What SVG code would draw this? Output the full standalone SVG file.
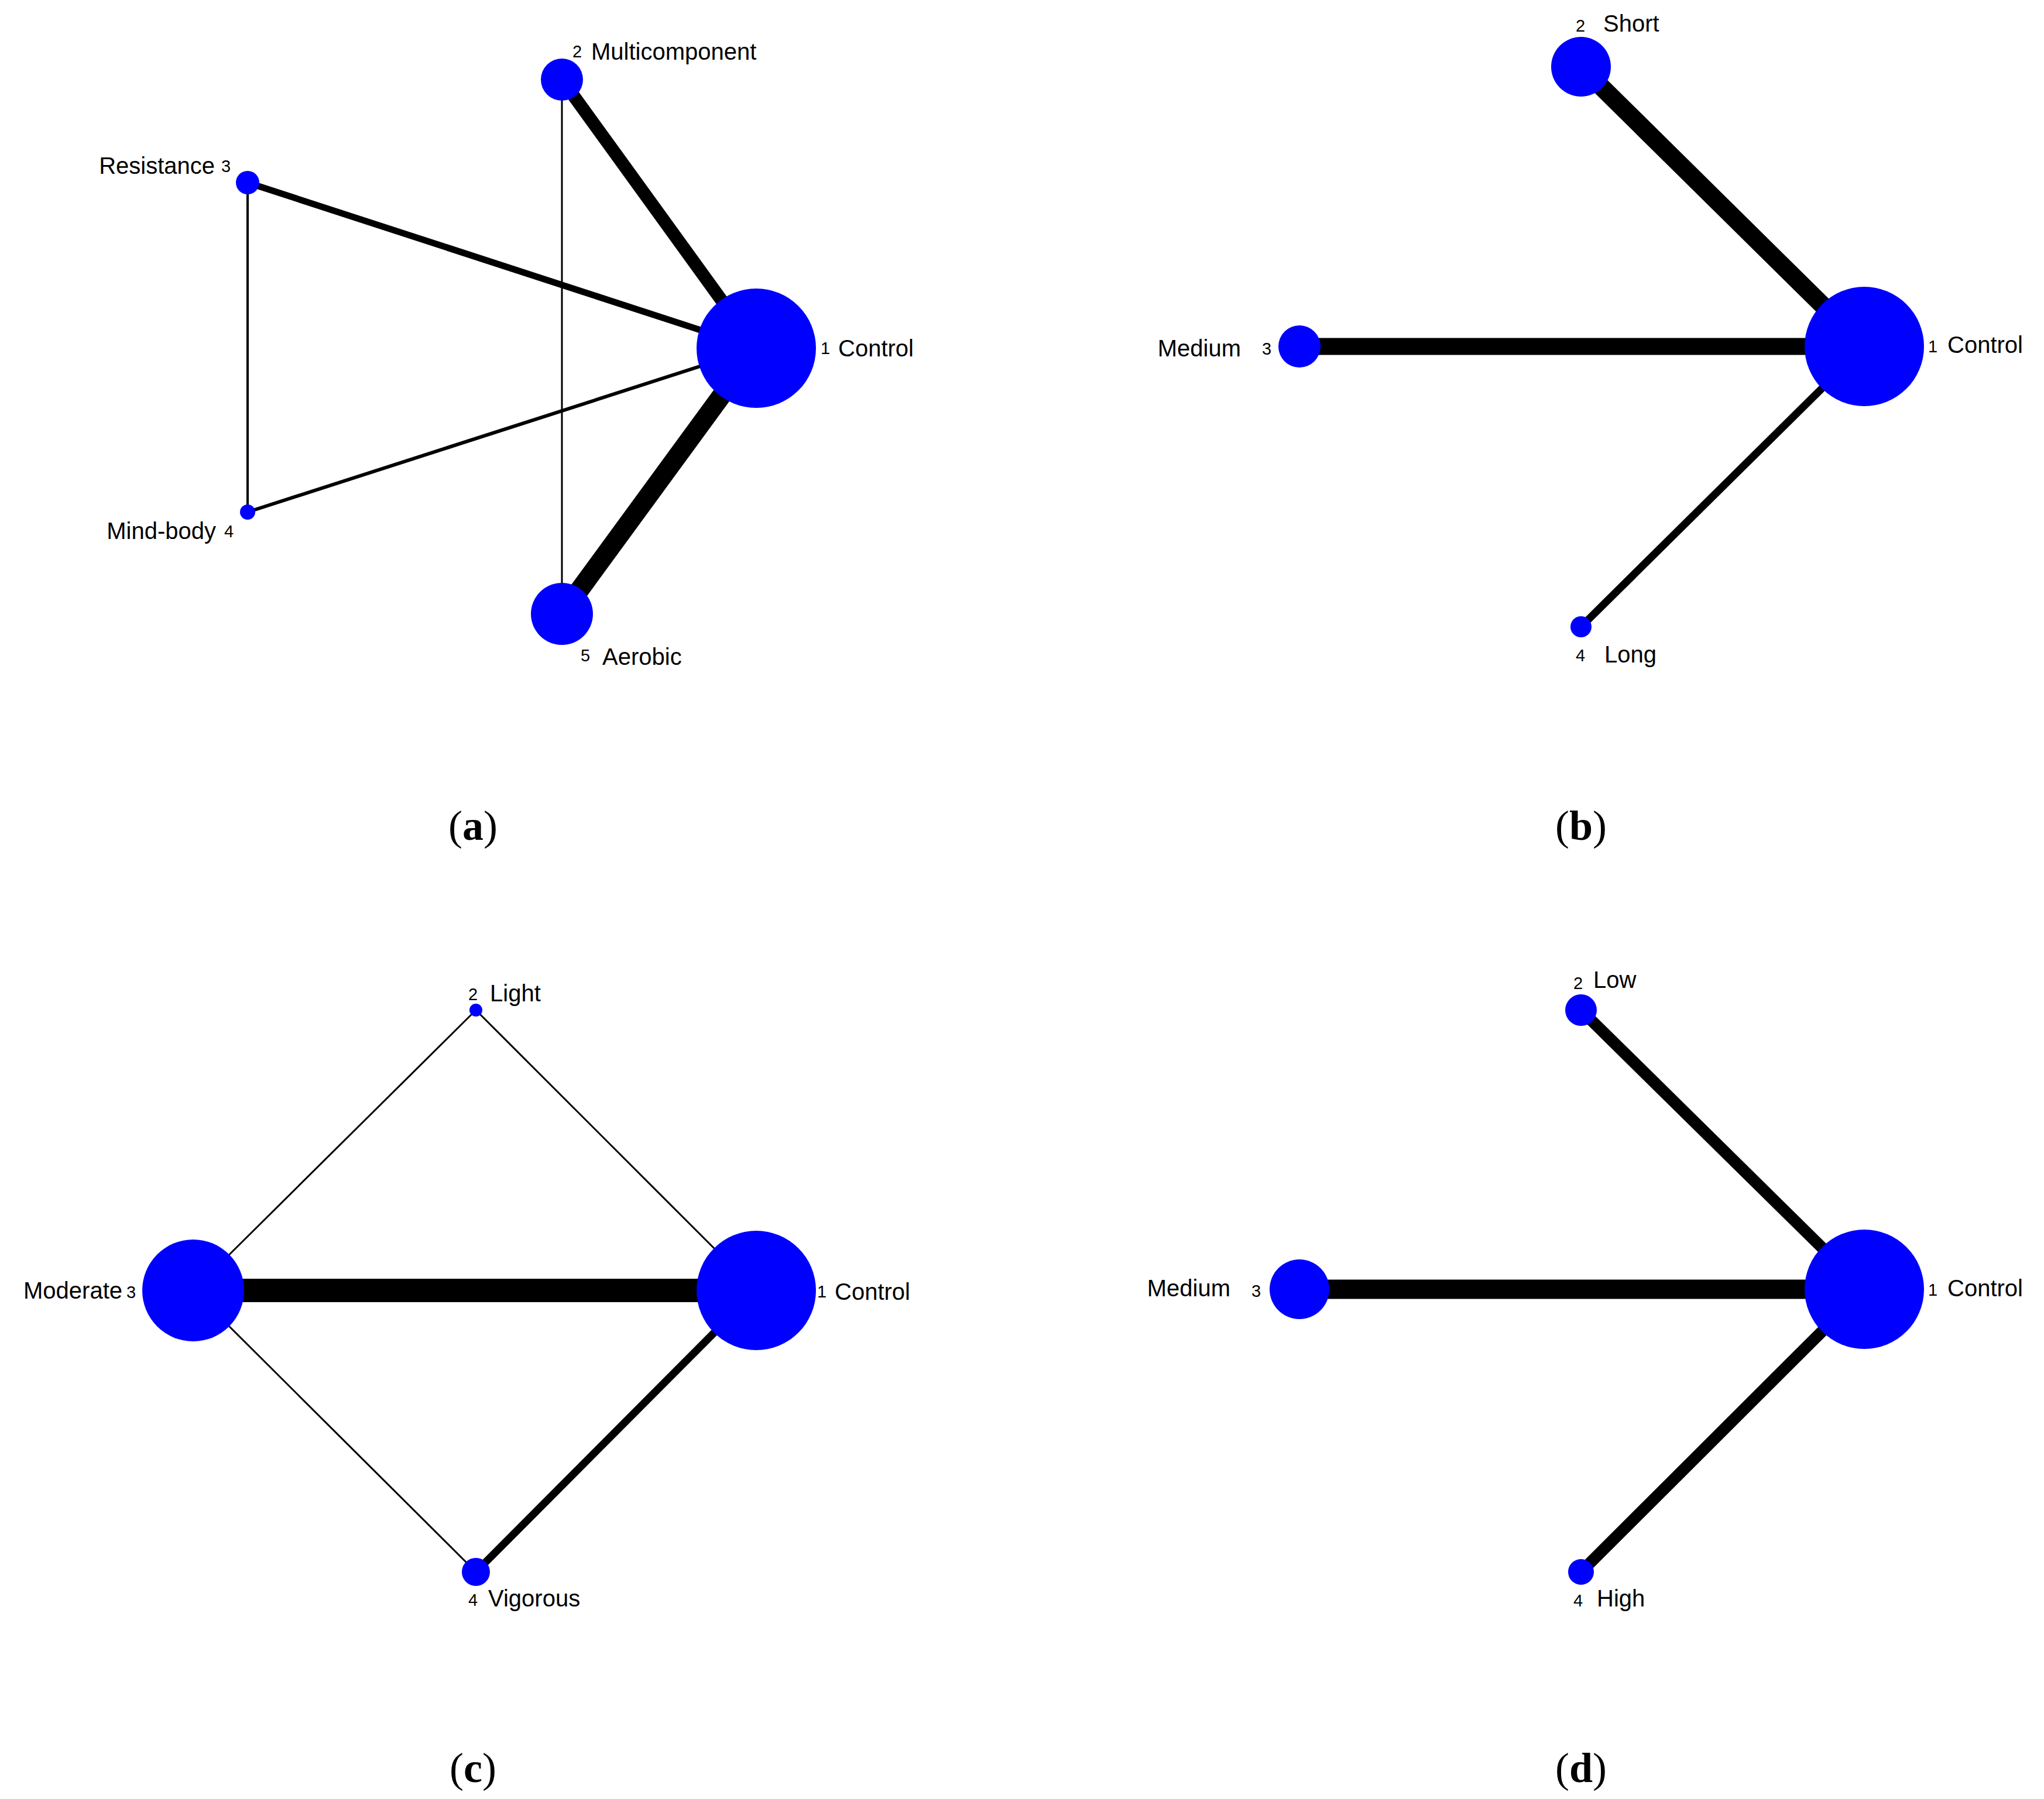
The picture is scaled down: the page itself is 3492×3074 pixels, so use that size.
<svg xmlns="http://www.w3.org/2000/svg" width="3492" height="3074" viewBox="0 0 3492 3074">
<style>
.n{fill:#0000ff}
.e{stroke:#000;fill:none}
.t{font-family:"Liberation Sans",Arial,sans-serif;font-size:40px;fill:#000}
.s{font-family:"Liberation Sans",Arial,sans-serif;font-size:29px;fill:#000}
.c{font-family:"Liberation Serif","Times New Roman",serif;font-size:72px;fill:#000;text-anchor:middle}
</style>
<rect width="3492" height="3074" fill="#fff"/>
<g id="connectors">
<line class="e" x1="960" y1="136" x2="1292" y2="595" stroke-width="22"/>
<line class="e" x1="423" y1="312" x2="1292" y2="595" stroke-width="11"/>
<line class="e" x1="423" y1="875" x2="1292" y2="595" stroke-width="6"/>
<line class="e" x1="960" y1="1049" x2="1292" y2="595" stroke-width="33"/>
<line class="e" x1="423" y1="312" x2="423" y2="875" stroke-width="4"/>
<line class="e" x1="960" y1="136" x2="960" y2="1049" stroke-width="3"/>
<line class="e" x1="2701" y1="114" x2="3185" y2="592" stroke-width="31"/>
<line class="e" x1="2220" y1="592" x2="3185" y2="592" stroke-width="29"/>
<line class="e" x1="2701" y1="1071" x2="3185" y2="592" stroke-width="13"/>
<line class="e" x1="330" y1="2205" x2="1292" y2="2205" stroke-width="40"/>
<line class="e" x1="813" y1="2686" x2="1292" y2="2205" stroke-width="13"/>
<line class="e" x1="813" y1="1726" x2="1292" y2="2205" stroke-width="3"/>
<line class="e" x1="813" y1="1726" x2="330" y2="2205" stroke-width="3"/>
<line class="e" x1="330" y1="2205" x2="813" y2="2686" stroke-width="3"/>
<line class="e" x1="2701" y1="1726" x2="3185" y2="2203" stroke-width="20"/>
<line class="e" x1="2220" y1="2203" x2="3185" y2="2203" stroke-width="33"/>
<line class="e" x1="2701" y1="2686" x2="3185" y2="2203" stroke-width="20"/>
</g>
<g id="a1"><circle class="n" cx="1292" cy="595" r="102"/><text class="s" x="1402" y="605">1</text><text class="t" x="1432" y="609">Control</text></g>
<g id="a2"><circle class="n" cx="960" cy="136" r="36"/><text class="s" x="978" y="98">2</text><text class="t" x="1010" y="102">Multicomponent</text></g>
<g id="a3"><circle class="n" cx="423" cy="312" r="20"/><text class="t" x="367" y="297" text-anchor="end">Resistance</text><text class="s" x="378" y="294">3</text></g>
<g id="a4"><circle class="n" cx="423" cy="875" r="13"/><text class="t" x="369" y="921" text-anchor="end">Mind-body</text><text class="s" x="383" y="918">4</text></g>
<g id="a5"><circle class="n" cx="960" cy="1049" r="53"/><text class="s" x="992" y="1130">5</text><text class="t" x="1029" y="1136">Aerobic</text></g>
<g id="b1"><circle class="n" cx="3185" cy="592" r="102"/><text class="s" x="3294" y="602">1</text><text class="t" x="3327" y="603">Control</text></g>
<g id="b2"><circle class="n" cx="2701" cy="114" r="51"/><text class="s" x="2692" y="54">2</text><text class="t" x="2739" y="54">Short</text></g>
<g id="b3"><circle class="n" cx="2220" cy="592" r="36"/><text class="t" x="2120" y="609" text-anchor="end">Medium</text><text class="s" x="2156" y="606">3</text></g>
<g id="b4"><circle class="n" cx="2701" cy="1071" r="18"/><text class="s" x="2692" y="1130">4</text><text class="t" x="2741" y="1132">Long</text></g>
<g id="c1"><circle class="n" cx="1292" cy="2205" r="102"/><text class="s" x="1396" y="2217">1</text><text class="t" x="1426" y="2221">Control</text></g>
<g id="c2"><circle class="n" cx="813" cy="1726" r="11"/><text class="s" x="800" y="1709">2</text><text class="t" x="837" y="1711">Light</text></g>
<g id="c3"><circle class="n" cx="330" cy="2205" r="87"/><text class="t" x="209" y="2219" text-anchor="end">Moderate</text><text class="s" x="216" y="2218">3</text></g>
<g id="c4"><circle class="n" cx="813" cy="2686" r="24"/><text class="s" x="800" y="2744">4</text><text class="t" x="834" y="2745">Vigorous</text></g>
<g id="d1"><circle class="n" cx="3185" cy="2203" r="102"/><text class="s" x="3294" y="2214">1</text><text class="t" x="3327" y="2215">Control</text></g>
<g id="d2"><circle class="n" cx="2701" cy="1726" r="27"/><text class="s" x="2688" y="1690">2</text><text class="t" x="2722" y="1688">Low</text></g>
<g id="d3"><circle class="n" cx="2220" cy="2203" r="51"/><text class="t" x="2102" y="2215" text-anchor="end">Medium</text><text class="s" x="2138" y="2216">3</text></g>
<g id="d4"><circle class="n" cx="2701" cy="2686" r="22"/><text class="s" x="2688" y="2745">4</text><text class="t" x="2728" y="2745">High</text></g>
<g id="captions">
<text class="c" x="808" y="1435">(<tspan font-weight="bold">a</tspan>)</text>
<text class="c" x="2701" y="1435">(<tspan font-weight="bold">b</tspan>)</text>
<text class="c" x="808" y="3045">(<tspan font-weight="bold">c</tspan>)</text>
<text class="c" x="2701" y="3045">(<tspan font-weight="bold">d</tspan>)</text>
</g>
</svg>
